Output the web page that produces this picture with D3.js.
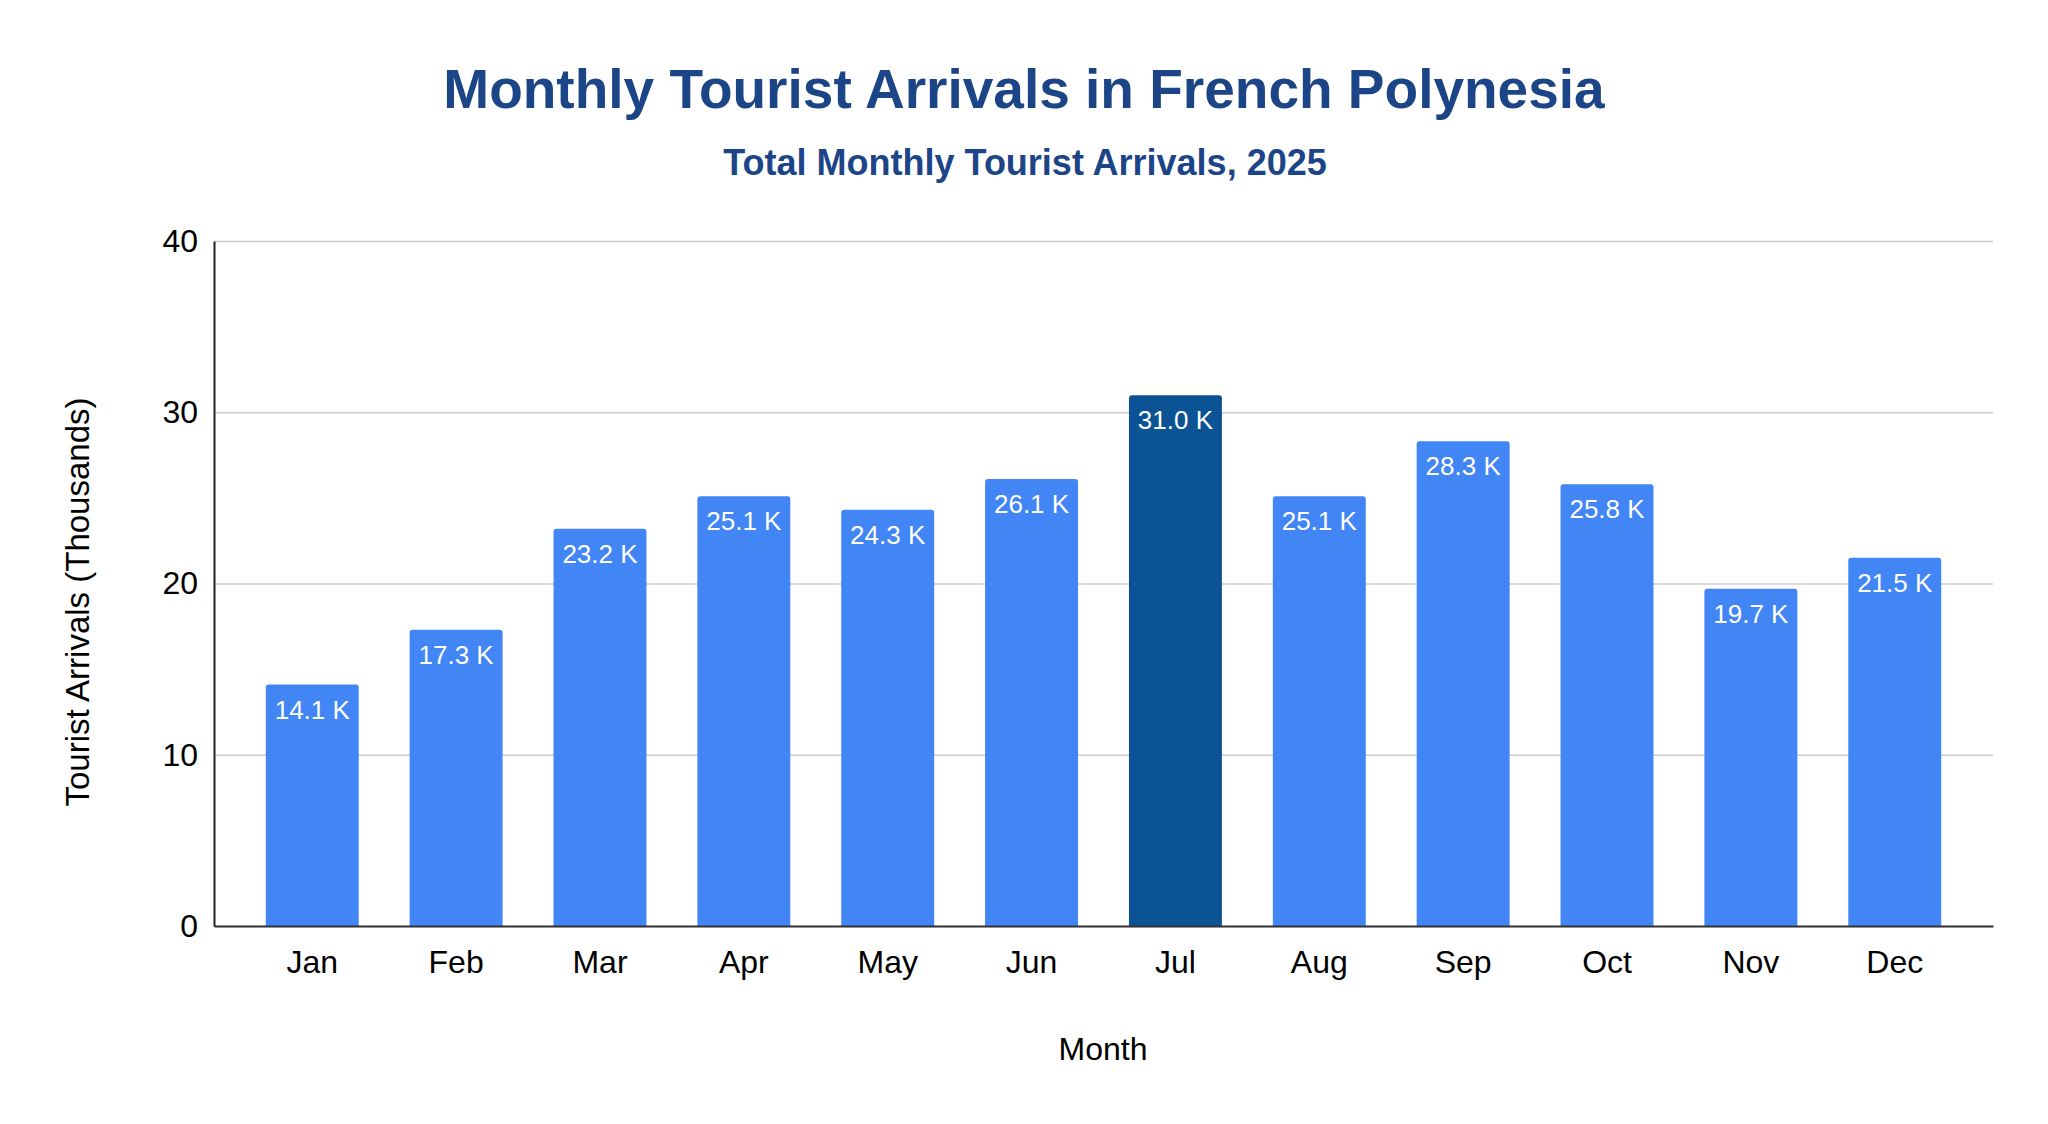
<!DOCTYPE html>
<html lang="en">
<head>
    <meta charset="UTF-8">
    <title>Monthly Tourist Arrivals in French Polynesia</title>
    <script src="https://d3js.org/d3.v7.min.js"></script>
    <style>
        body { margin: 0; background: #fff; }
        svg text { font-family: "Liberation Sans", Arial, sans-serif; }
    </style>
</head>
<body>
    <svg id="chart" width="2048" height="1124"></svg>

    <script>
        // data (thousands)
        const months = ["Jan", "Feb", "Mar", "Apr", "May", "Jun", "Jul", "Aug", "Sep", "Oct", "Nov", "Dec"];
        const arrivals = [14.1, 17.3, 23.2, 25.1, 24.3, 26.1, 31.0, 25.1, 28.3, 25.8, 19.7, 21.5];
        const peakMonth = "Jul";
        const yTicks = [0, 10, 20, 30, 40];

        const width = 2048;
        const height = 1124;
        const margin = { top: 241, right: 55, bottom: 198, left: 214 };

        const svg = d3.select("#chart");

        svg.append("rect")
            .attr("width", width)
            .attr("height", height)
            .attr("fill", "#fff");

        const x = d3.scaleBand()
            .domain(months)
            .range([margin.left, width - margin.right])
            .paddingInner(0.354)
            .paddingOuter(0.36);

        const y = d3.scaleLinear()
            .domain([0, 40])
            .range([height - margin.bottom, margin.top]);

        // gridlines
        svg.append("g")
            .attr("transform", `translate(${margin.left},0)`)
            .call(d3.axisLeft(y).tickValues(yTicks).tickSize(-(width - margin.left - margin.right)).tickFormat(""))
            .call(g => g.select(".domain").remove())
            .call(g => g.selectAll(".tick line").attr("stroke", "#cccccc").attr("stroke-width", 1.5));

        // bars with slightly rounded tops
        const r = 3;
        function barPath(d, i) {
            const x0 = x(months[i]);
            const w = x.bandwidth();
            const y0 = y(d);
            const yb = y(0);
            return `M${x0},${yb}V${y0 + r}Q${x0},${y0} ${x0 + r},${y0}H${x0 + w - r}Q${x0 + w},${y0} ${x0 + w},${y0 + r}V${yb}Z`;
        }

        svg.append("g")
            .selectAll("path")
            .data(arrivals)
            .enter().append("path")
            .attr("d", barPath)
            .attr("fill", (d, i) => months[i] === peakMonth ? "#0b5394" : "#4285f4");

        // value labels inside bar tops
        svg.append("g")
            .selectAll("text")
            .data(arrivals)
            .enter().append("text")
            .attr("x", (d, i) => x(months[i]) + x.bandwidth() / 2)
            .attr("y", d => y(d) + 34)
            .attr("text-anchor", "middle")
            .attr("font-size", 26)
            .attr("fill", "#fff")
            .text(d => d.toFixed(1) + " K");

        // y axis
        svg.append("g")
            .attr("transform", `translate(${margin.left},0)`)
            .call(d3.axisLeft(y).tickValues(yTicks).tickSize(0).tickPadding(16))
            .call(g => g.select(".domain").attr("stroke", "#222").attr("stroke-width", 2))
            .call(g => g.selectAll("text").attr("font-size", 32).attr("fill", "#000"));

        // x axis
        svg.append("g")
            .attr("transform", `translate(0,${y(0)})`)
            .call(d3.axisBottom(x).tickSize(0).tickPadding(24))
            .call(g => g.select(".domain").attr("stroke", "#333").attr("stroke-width", 2))
            .call(g => g.selectAll("text").attr("font-size", 32).attr("fill", "#000"));

        // titles
        svg.append("text")
            .attr("x", width / 2)
            .attr("y", 108)
            .attr("text-anchor", "middle")
            .attr("font-size", 55)
            .attr("font-weight", "bold")
            .attr("fill", "#1c4587")
            .text("Monthly Tourist Arrivals in French Polynesia");

        svg.append("text")
            .attr("x", 1025)
            .attr("y", 175)
            .attr("text-anchor", "middle")
            .attr("font-size", 36)
            .attr("font-weight", "bold")
            .attr("fill", "#1c4587")
            .text("Total Monthly Tourist Arrivals, 2025");

        svg.append("text")
            .attr("x", 1103)
            .attr("y", 1060)
            .attr("text-anchor", "middle")
            .attr("font-size", 32)
            .attr("fill", "#000")
            .text("Month");

        svg.append("text")
            .attr("transform", "translate(89,602) rotate(-90)")
            .attr("text-anchor", "middle")
            .attr("font-size", 33)
            .attr("fill", "#000")
            .text("Tourist Arrivals (Thousands)");
    </script>
</body>
</html>
